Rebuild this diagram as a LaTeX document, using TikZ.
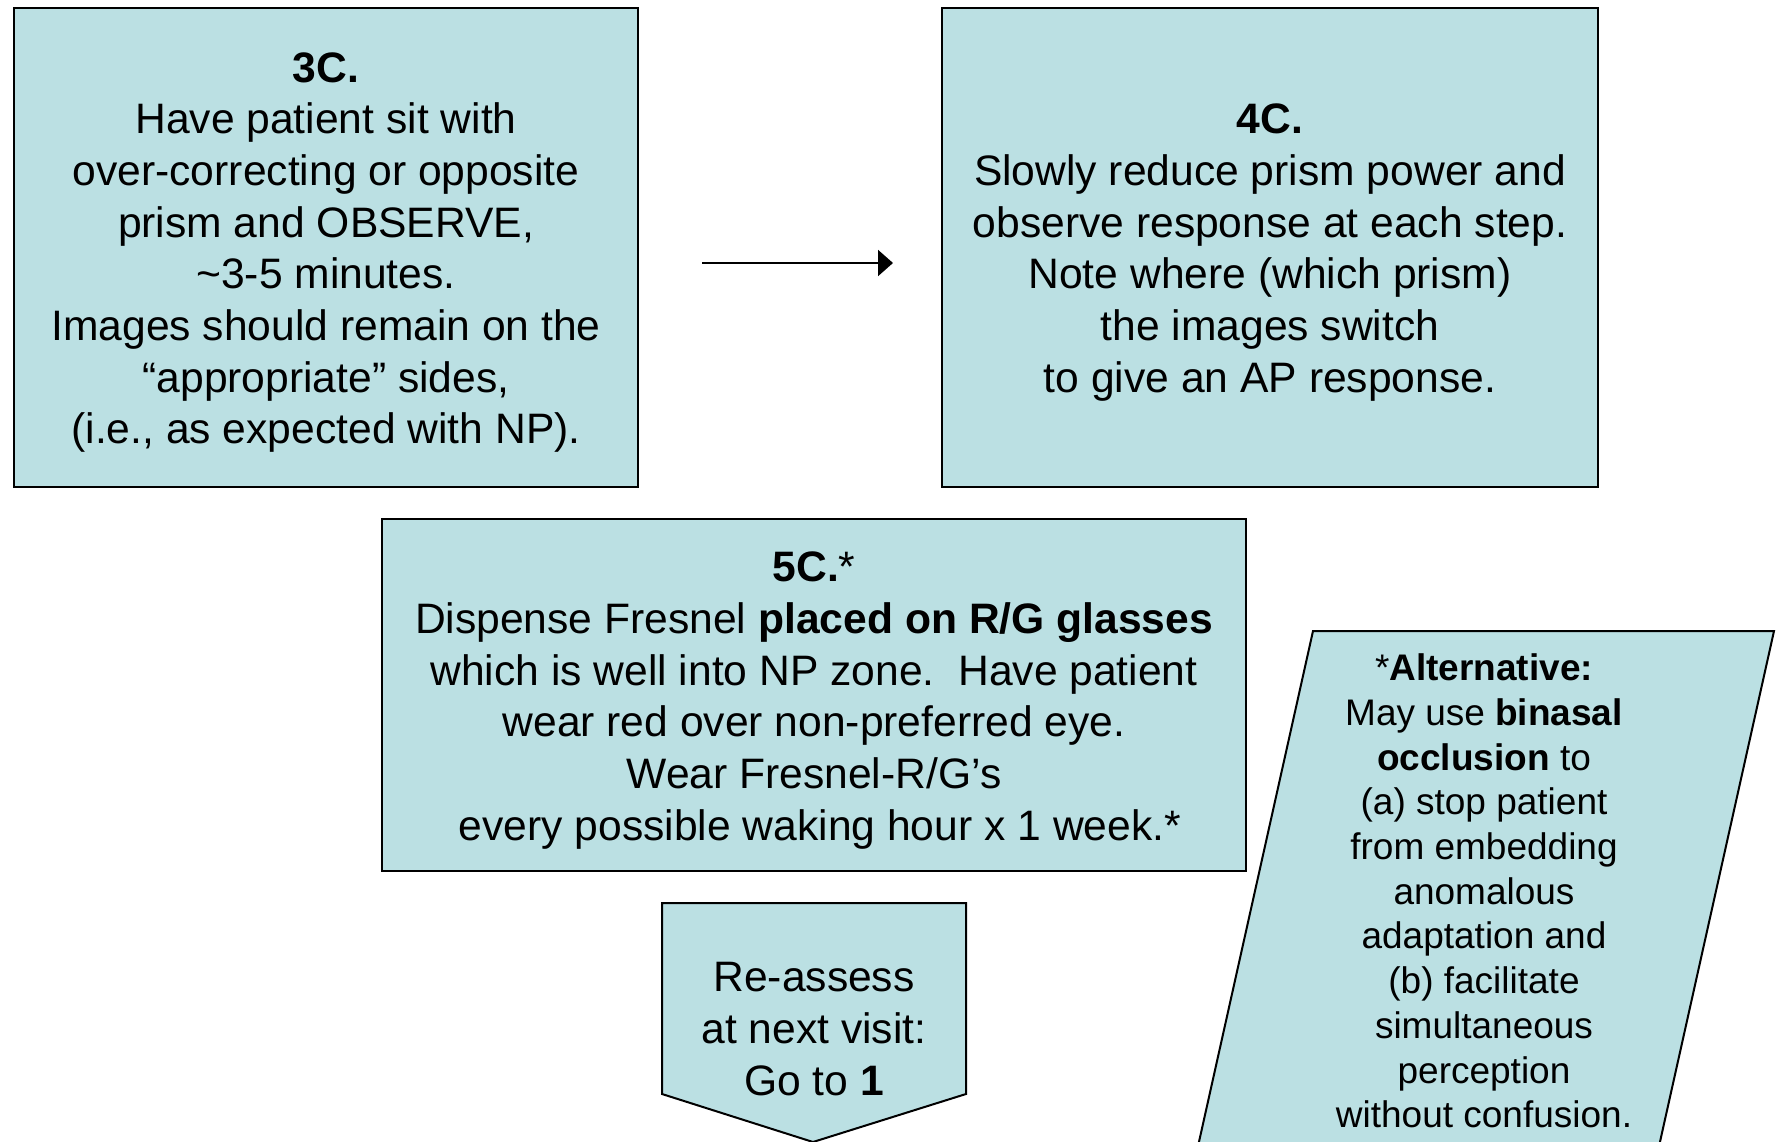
\documentclass[tikz,border=0pt]{standalone}
\usepackage{fontspec}
\setmainfont{Liberation Sans}
\usetikzlibrary{arrows.meta}
\definecolor{boxfill}{RGB}{187,224,227}
\begin{document}
\begin{tikzpicture}[x=1pt,y=-1pt,
  panel/.style={draw=black, line width=2pt, fill=boxfill},
  body/.style={font=\fontsize{42.6}{51.7}\selectfont, align=center, text=black},
  note/.style={font=\fontsize{37}{44.7}\selectfont, align=center, text=black},
  stepbox/.style={panel, rectangle, inner sep=0pt},
  flow/.style={line width=2pt, -{Triangle[length=15pt,width=26pt]}}]
\useasboundingbox (0,0) rectangle (1779,1142);

% step 3C
\node[stepbox, minimum width=624pt, minimum height=479pt] (c3) at (326,247.5) {};
\node[body] (c3text) at ([yshift=-5pt]c3.center)
  {\textbf{3C.}\\
   Have patient sit with\\
   over-correcting or opposite\\
   prism and OBSERVE,\\
   \textasciitilde3-5 minutes.\\
   Images should remain on the\\
   “appropriate” sides,\\
   (i.e., as expected with NP).};

% step 4C
\node[stepbox, minimum width=656pt, minimum height=479pt] (c4) at (1270,247.5) {};
\node[body] (c4text) at ([yshift=-5pt]c4.center)
  {\textbf{4C.}\\
   Slowly reduce prism power and\\
   observe response at each step.\\
   Note where (which prism)\\
   the images switch\\
   to give an AP response.};

\draw[flow, shorten <=63pt, shorten >=48pt]
  ([yshift=-15.5pt]c3.east) -- ([yshift=-15.5pt]c4.west);

% step 5C
\node[stepbox, minimum width=864pt, minimum height=352pt] (c5) at (814,695) {};
\node[body] (c5text) at ([yshift=-5.5pt]c5.center)
  {\textbf{5C.}*\\
   Dispense Fresnel \textbf{placed on R/G glasses}\\
   which is well into NP zone.\ \ Have patient\\
   wear red over non-preferred eye.\\
   Wear Fresnel-R/G’s\\
   \ every possible waking hour x 1 week.*};

% off-page connector: re-assess
\coordinate (p1) at (662,903);
\coordinate (p2) at (966,903);
\coordinate (p3) at (966,1094);
\coordinate (p4) at (813,1142);
\coordinate (p5) at (662,1094);
\path[panel] (p1) -- (p2) -- (p3) -- (p4) -- (p5) -- cycle;
\node[body] (back) at (814,1029)
  {Re-assess\\
   at next visit:\\
   Go to \textbf{1}};

% alternative (data parallelogram, running off the page)
\begin{scope}
  \clip (0,0) rectangle (1779,1142);
  \coordinate (q1) at (1313,631);
  \coordinate (q2) at (1774,631);
  \coordinate (q3) at (1647,1200);
  \coordinate (q4) at (1186,1200);
  \path[panel] (q1) -- (q2) -- (q3) -- (q4) -- cycle;
\end{scope}
\node[note] (alt) at (1484,891)
  {*\textbf{Alternative:}\\
   May use \textbf{binasal}\\
   \textbf{occlusion} to\\
   (a) stop patient\\
   from embedding\\
   anomalous\\
   adaptation and\\
   (b) facilitate\\
   simultaneous\\
   perception\\
   without confusion.};
\end{tikzpicture}
\end{document}
